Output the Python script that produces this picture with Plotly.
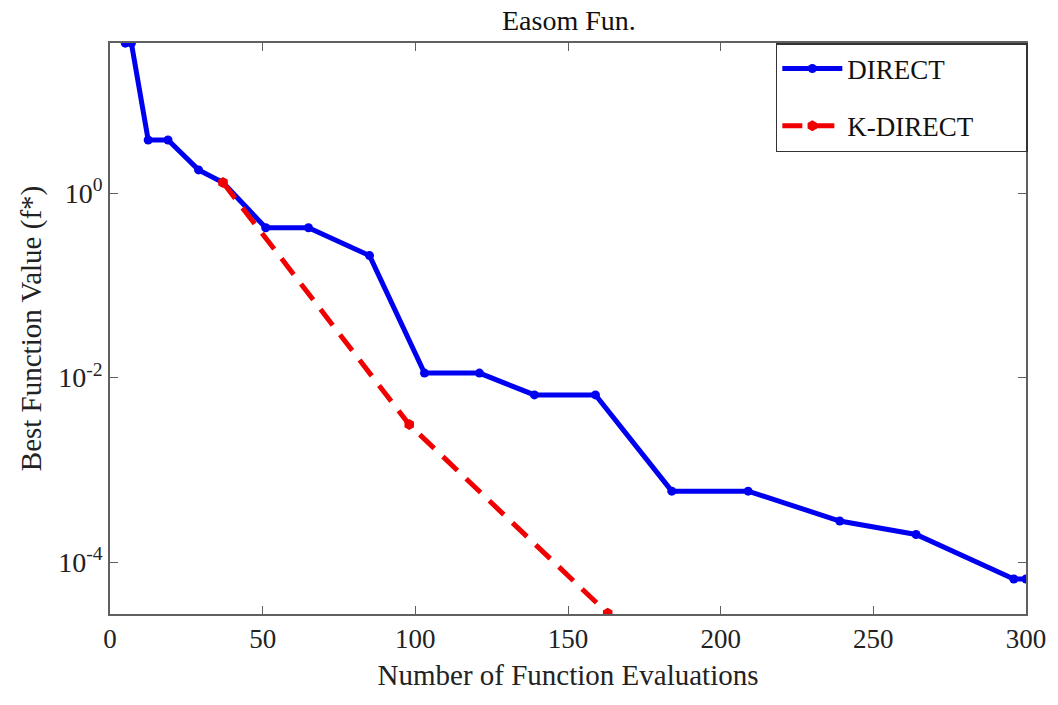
import plotly.graph_objects as go

# Data
direct_evals = [5, 7, 12.5, 19, 29, 37, 51, 65, 85, 103, 121, 139, 159, 184, 209, 239, 264, 296, 300]
direct_best = [42, 42, 3.75, 3.75, 1.78, 1.3, 0.42, 0.42, 0.21, 0.0112, 0.0112, 0.0065, 0.0065,
               5.9e-4, 5.9e-4, 2.8e-4, 2.0e-4, 6.6e-5, 6.6e-5]

kdirect_evals = [37, 98, 163]
kdirect_best = [1.3, 0.0031, 2.8e-5]

series_names = ["DIRECT", "K-DIRECT"]

ytick_vals = [1, 1e-2, 1e-4]
ytick_text = ["10<sup>0</sup>", "10<sup>-2</sup>", "10<sup>-4</sup>"]
xtick_vals = [0, 50, 100, 150, 200, 250, 300]

FONT = "Liberation Serif, Times New Roman, serif"
AXIS_COLOR = "#606060"
PAD = "\u00a0" * 7  # widens the legend box to match the reference

fig = go.Figure()
fig.add_trace(go.Scatter(
    x=direct_evals, y=direct_best, mode="lines+markers", name=series_names[0] + PAD,
    line=dict(color="#0000F0", width=5),
    marker=dict(color="#0000F0", size=9, symbol="circle"),
    legendgroup="a",
))
fig.add_trace(go.Scatter(
    x=kdirect_evals, y=kdirect_best, mode="lines+markers", name=series_names[1] + PAD,
    line=dict(color="#F00000", width=5, dash="20px,12px"),
    marker=dict(color="#F00000", size=11, symbol="hexagon"),
    legendgroup="b",
))

fig.update_layout(
    width=1058, height=705,
    margin=dict(l=110, r=30, t=43, b=91),
    paper_bgcolor="white", plot_bgcolor="white",
    font=dict(family=FONT, color="#222222", size=27),
    title=dict(text="Easom Fun.", x=0.5377, xanchor="center", y=0.985, yanchor="top",
               font=dict(family=FONT, size=28, color="#111111")),
    showlegend=True,
    legend=dict(x=1.002, xanchor="right", y=1, yanchor="top",
                bgcolor="white", bordercolor="#333333", borderwidth=1.5,
                font=dict(family=FONT, size=27, color="#111111"),
                tracegroupgap=19, itemwidth=60),
)

fig.update_xaxes(
    range=[0, 300], tickvals=xtick_vals,
    ticks="inside", ticklen=8, tickcolor=AXIS_COLOR, tickwidth=1,
    showline=True, linecolor=AXIS_COLOR, linewidth=1.5, mirror="ticks",
    showgrid=False, zeroline=False,
    tickfont=dict(family=FONT, size=27, color="#222222"),
    title=dict(text="Number of Function Evaluations", standoff=12,
               font=dict(family=FONT, size=29, color="#222222")),
)
fig.update_yaxes(
    type="log", range=[-4.56, 1.625], tickvals=ytick_vals, ticktext=ytick_text,
    ticks="inside", ticklen=8, tickcolor=AXIS_COLOR, tickwidth=1,
    showline=True, linecolor=AXIS_COLOR, linewidth=1.5, mirror="ticks",
    showgrid=False, zeroline=False,
    tickfont=dict(family=FONT, size=28, color="#222222"),
    title=dict(text="Best Function Value (f*)", standoff=8,
               font=dict(family=FONT, size=29, color="#222222")),
)

fig.write_html("out.html")
